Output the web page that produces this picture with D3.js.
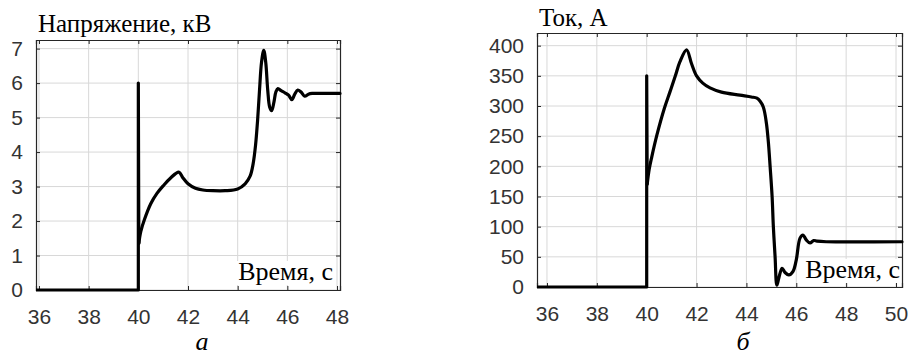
<!DOCTYPE html>
<html>
<head>
<meta charset="utf-8">
<script src="https://cdn.jsdelivr.net/npm/d3@7"></script>
<style>
  body { margin: 0; background: #fff; }
  svg { display: block; }
</style>
</head>
<body>
<svg width="909" height="358"></svg>
<script>
// --- data ---
// (a) voltage, kV
var voltTime  = [35.88, 40, 40, 40.02, 40.1, 40.25, 40.5, 40.75, 41.0, 41.3, 41.63, 41.8, 42.0, 42.3, 42.6, 43.0, 43.5, 44.0, 44.3, 44.5, 44.62, 44.72, 44.8, 44.88, 44.96, 45.05, 45.13, 45.21, 45.29, 45.37, 45.46, 45.54, 45.62, 45.75, 45.9, 46.05, 46.18, 46.3, 46.42, 46.55, 46.7, 46.85, 47.0, 47.5, 48.12];
var voltValue = [0, 0, 6, 1.35, 1.7, 2.05, 2.5, 2.8, 3.02, 3.25, 3.42, 3.25, 3.08, 2.95, 2.9, 2.88, 2.88, 2.93, 3.08, 3.3, 3.65, 4.2, 4.9, 5.8, 6.6, 6.95, 6.6, 5.8, 5.3, 5.2, 5.45, 5.75, 5.84, 5.78, 5.72, 5.65, 5.52, 5.68, 5.8, 5.74, 5.62, 5.68, 5.7, 5.7, 5.7];
// (б) current, A
var currTime  = [35.6, 40, 40, 40.02, 40.1, 40.2, 40.41, 40.7, 40.93, 41.15, 41.33, 41.6, 41.8, 42.0, 42.25, 42.54, 43.0, 43.74, 44.2, 44.42, 44.55, 44.68, 44.8, 44.88, 44.95, 45.03, 45.08, 45.15, 45.22, 45.3, 45.43, 45.55, 45.7, 45.87, 46.0, 46.15, 46.27, 46.4, 46.55, 46.7, 46.83, 47.2, 50.24];
var currValue = [0, 0, 350, 170, 195, 215, 252, 295, 323, 350, 373, 393, 370, 350, 338, 330, 323, 318, 315, 313, 308, 298, 272, 240, 200, 150, 100, 50, 3, 15, 31, 24, 20, 26, 45, 81, 86, 78, 73, 77, 76, 75, 75];

var voltTicksX = [36, 38, 40, 42, 44, 46, 48];
var voltTicksY = [0, 1, 2, 3, 4, 5, 6, 7];
var currTicksX = [36, 38, 40, 42, 44, 46, 48, 50];
var currTicksY = [0, 50, 100, 150, 200, 250, 300, 350, 400];

var svg = d3.select('svg');

var panels = [
  { t: voltTime, v: voltValue, tx: voltTicksX, ty: voltTicksY,
    xd: [35.88, 48.12], yd: [0, 7.25],
    box: { x0: 36, x1: 340, y0: 40, y1: 290 },
    title: 'Напряжение, кВ', titleY: 32,
    xlabelRight: 333, xlabelY: 280,
    sub: 'а', subX: 202, subY: 350 },
  { t: currTime, v: currValue, tx: currTicksX, ty: currTicksY,
    xd: [35.6, 50.24], yd: [0, 421],
    box: { x0: 537, x1: 902, y0: 33, y1: 287 },
    title: 'Ток, А', titleY: 26,
    xlabelRight: 900, xlabelY: 278,
    sub: 'б', subX: 743, subY: 350 }
];

panels.forEach(function (p) {
  var b = p.box;
  var x = d3.scaleLinear().domain(p.xd).range([b.x0, b.x1]);
  var y = d3.scaleLinear().domain(p.yd).range([b.y1, b.y0]);
  var g = svg.append('g');

  // grid
  g.selectAll('.gx').data(p.tx).enter().append('line')
    .attr('x1', d => x(d)).attr('x2', d => x(d))
    .attr('y1', b.y0).attr('y2', b.y1)
    .style('stroke', '#d8d8d8').style('stroke-width', 1);
  g.selectAll('.gy').data(p.ty).enter().append('line')
    .attr('x1', b.x0).attr('x2', b.x1)
    .attr('y1', d => y(d)).attr('y2', d => y(d))
    .style('stroke', '#d8d8d8').style('stroke-width', 1);

  // axes: bottom/left with labels, top/right ticks only (inward)
  var fmt = d3.format('d');
  g.append('g').attr('transform', 'translate(0,' + b.y1 + ')')
    .call(d3.axisBottom(x).tickValues(p.tx).tickSize(-4).tickPadding(19).tickFormat(fmt));
  g.append('g').attr('transform', 'translate(0,' + b.y0 + ')')
    .call(d3.axisTop(x).tickValues(p.tx).tickSize(-4).tickFormat(''));
  g.append('g').attr('transform', 'translate(' + b.x0 + ',0)')
    .call(d3.axisLeft(y).tickValues(p.ty).tickSize(-4).tickPadding(13).tickFormat(fmt));
  g.append('g').attr('transform', 'translate(' + b.x1 + ',0)')
    .call(d3.axisRight(y).tickValues(p.ty).tickSize(-4).tickFormat(''));
  g.selectAll('.domain').style('stroke', '#262626').style('stroke-width', 1.2);
  g.selectAll('.tick line').style('stroke', '#262626');
  g.selectAll('.tick text')
    .style('font-family', 'Liberation Sans, Arial, sans-serif')
    .style('font-size', '21px').style('fill', '#333');

  // curve: switching spike is straight, the rest is smooth
  var pts = p.t.map((d, i) => [d, p.v[i]]);
  var straight = d3.line().x(d => x(d[0])).y(d => y(d[1]));
  var smooth = d3.line().x(d => x(d[0])).y(d => y(d[1])).curve(d3.curveCatmullRom.alpha(0.5));
  g.append('path').attr('d', straight(pts.slice(0, 4)))
    .style('fill', 'none').style('stroke', '#000').style('stroke-width', 3.2)
    .style('stroke-linejoin', 'round');
  g.append('path').attr('d', smooth(pts.slice(3)))
    .style('fill', 'none').style('stroke', '#000').style('stroke-width', 3.2)
    .style('stroke-linejoin', 'round').style('stroke-linecap', 'round');

  // "Время, с" label on white
  var lab = g.append('text')
    .attr('x', p.xlabelRight).attr('y', p.xlabelY)
    .attr('text-anchor', 'end')
    .style('font-family', 'Liberation Serif, Times New Roman, serif')
    .style('font-size', '26px')
    .text('Время, с');
  var bb = lab.node().getBBox();
  g.append('rect')
    .attr('x', bb.x - 2).attr('y', bb.y + 4).attr('width', bb.width + 3).attr('height', bb.height - 5)
    .style('fill', '#fff');
  lab.raise();

  // title
  g.append('text').attr('x', b.x0 + 2).attr('y', p.titleY)
    .style('font-family', 'Liberation Serif, Times New Roman, serif')
    .style('font-size', '25px')
    .text(p.title);

  // sub caption
  g.append('text').attr('x', p.subX).attr('y', p.subY)
    .attr('text-anchor', 'middle')
    .style('font-family', 'Liberation Serif, Times New Roman, serif')
    .style('font-style', 'italic')
    .style('font-size', '26px')
    .text(p.sub);
});
</script>
</body>
</html>
